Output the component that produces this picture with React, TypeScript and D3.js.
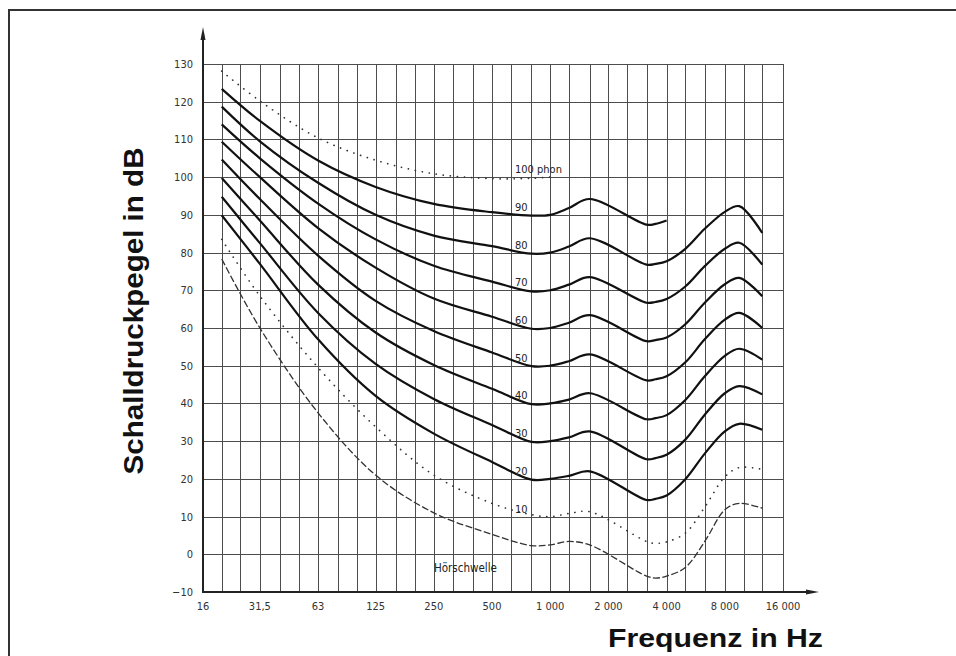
import React from 'react';
import * as d3 from 'd3';

const freqs = [20, 31.5, 63, 125, 250, 500, 800, 1000, 1250, 1600, 3150, 3500, 4000, 5000, 6300, 8000, 9500, 12500];

// sound pressure level (dB) per loudness level, null = curve not drawn there
const phon100 = [128.1, 120.2, 110.4, 104.5, 100.9, 99.6, 99.7, 100, null, null, null, null, null, null, null, null, null, null];
const phon90 = [123.4, 114.9, 104.4, 97.4, 92.9, 90.7, 89.8, 90, 91.8, 94.2, 87.4, 87.6, 88.5, null, null, null, null, null];
const phon80 = [118.7, 109.5, 98.5, 90, 84.5, 81.7, 79.7, 80, 81.6, 83.8, 76.8, 77.0, 77.7, 81.0, 86.3, 90.8, 92.3, 85.2];
const phon70 = [114, 105, 93, 83.5, 76.5, 72.3, 69.7, 70, 71.5, 73.5, 66.7, 66.9, 67.7, 71.0, 76.4, 81.0, 82.6, 76.8];
const phon60 = [109.4, 100, 86.5, 76, 67.8, 63, 59.8, 60, 61.4, 63.4, 56.5, 56.8, 57.5, 61.0, 66.7, 71.6, 73.3, 68.4];
const phon50 = [104.7, 94.2, 79.2, 67.2, 59.2, 53.5, 49.9, 50, 51.2, 53, 46.1, 46.4, 47.2, 50.9, 57.0, 62.2, 64, 60];
const phon40 = [99.8, 88.5, 71.5, 58.8, 50.2, 43.9, 39.8, 40, 41, 42.7, 35.8, 36.1, 36.9, 40.9, 47.2, 52.6, 54.5, 51.6];
const phon30 = [94.8, 82.5, 64, 50.5, 41.2, 34.3, 29.8, 30, 31, 32.6, 25.2, 25.5, 26.4, 30.4, 37.0, 42.7, 44.6, 42.4];
const phon20 = [89.9, 77, 57, 42, 32, 24.5, 19.8, 20, 20.8, 22, 14.4, 14.7, 15.6, 19.9, 26.7, 32.6, 34.6, 33];
const phon10 = [83.5, 68.5, 49.5, 33.8, 21, 13.5, 10.5, 10, 10.8, 11.3, 3.4, 2.9, 3.3, 5.6, 12.5, 20.5, 23.0, 22.5];
const threshold = [78.3, 60, 37.5, 21, 11, 5.3, 2.3, 2.5, 3.4, 2.5, -5.8, -6.3, -5.8, -3.5, 3.4, 11.8, 13.5, 12.2];

const curves = [
  { phon: 100, label: '100 phon', values: phon100, style: 'dot' },
  { phon: 90, label: '90', values: phon90, style: 'solid' },
  { phon: 80, label: '80', values: phon80, style: 'solid' },
  { phon: 70, label: '70', values: phon70, style: 'solid' },
  { phon: 60, label: '60', values: phon60, style: 'solid' },
  { phon: 50, label: '50', values: phon50, style: 'solid' },
  { phon: 40, label: '40', values: phon40, style: 'solid' },
  { phon: 30, label: '30', values: phon30, style: 'solid' },
  { phon: 20, label: '20', values: phon20, style: 'solid' },
  { phon: 10, label: '10', values: phon10, style: 'dot' },
  { phon: null, label: 'Hörschwelle', values: threshold, style: 'dash' },
];

// grid: third-octave band lines
const bandFreqs = [16, 20, 25, 31.5, 40, 50, 63, 80, 100, 125, 160, 200, 250, 315, 400, 500, 630, 800,
  1000, 1250, 1600, 2000, 2500, 3150, 4000, 5000, 6300, 8000, 10000, 12500, 16000];
const xTicks = [16, 31.5, 63, 125, 250, 500, 1000, 2000, 4000, 8000, 16000];
const xTickLabels = ['16', '31,5', '63', '125', '250', '500', '1 000', '2 000', '4 000', '8 000', '16 000'];
const yTicks = [-10, 0, 10, 20, 30, 40, 50, 60, 70, 80, 90, 100, 110, 120, 130];

const totalWidth = 956;
const totalHeight = 656;

class App extends React.Component {
  node = React.createRef<HTMLDivElement>();

  componentDidMount() {
    const root = d3.select(this.node.current);
    root.selectAll('*').remove();

    const svg = root
      .append('svg')
      .attr('width', totalWidth)
      .attr('height', totalHeight)
      .style('display', 'block')
      .style('background', '#fff');

    const x = d3.scaleLog().domain([16, 16000]).range([203, 783]);
    const y = d3.scaleLinear().domain([-10, 130]).range([592, 64]);

    // frame (only top and left edges are inside the picture)
    svg.append('rect')
      .attr('x', 9).attr('y', 10)
      .attr('width', totalWidth + 20).attr('height', totalHeight + 20)
      .attr('fill', 'none').attr('stroke', '#333').attr('stroke-width', 2);

    const grid = svg.append('g').attr('stroke', '#4d4d4d').attr('stroke-width', 1);
    grid.selectAll('line.h').data(yTicks).enter().append('line')
      .attr('x1', x(16)).attr('x2', x(16000))
      .attr('y1', d => Math.round(y(d)) + 0.5).attr('y2', d => Math.round(y(d)) + 0.5);
    grid.selectAll('line.v').data(bandFreqs).enter().append('line')
      .attr('x1', d => Math.round(x(d)) + 0.5).attr('x2', d => Math.round(x(d)) + 0.5)
      .attr('y1', y(130)).attr('y2', y(-10));

    // axes with arrows
    const axes = svg.append('g').attr('stroke', '#222').attr('stroke-width', 2);
    axes.append('line').attr('x1', x(16)).attr('x2', x(16)).attr('y1', y(-10) + 1).attr('y2', 34);
    axes.append('line').attr('x1', x(16) - 1).attr('x2', 812).attr('y1', y(-10)).attr('y2', y(-10));
    svg.append('path').attr('fill', '#222')
      .attr('d', `M${x(16)},27 L${x(16) - 2.5},40 L${x(16) + 2.5},40 Z`);
    svg.append('path').attr('fill', '#222')
      .attr('d', `M819,${y(-10)} L806,${y(-10) - 2.5} L806,${y(-10) + 2.5} Z`);

    // tick labels
    svg.append('g').selectAll('text').data(yTicks).enter().append('text')
      .attr('x', 193).attr('y', d => y(d)).attr('dy', '0.36em')
      .attr('text-anchor', 'end')
      .style('font-family', '"DejaVu Sans Condensed", "DejaVu Sans", sans-serif')
      .style('font-size', '11px').attr('fill', '#333')
      .text(d => (d < 0 ? '\u2212' + Math.abs(d) : String(d)));

    svg.append('g').selectAll('text').data(xTicks).enter().append('text')
      .attr('x', d => x(d)).attr('y', 610)
      .attr('text-anchor', 'middle')
      .style('font-family', '"DejaVu Sans Condensed", "DejaVu Sans", sans-serif')
      .style('font-size', '11px').attr('fill', '#333')
      .text((d, i) => xTickLabels[i]);

    // curves
    const line = d3.line<number | null>()
      .defined(d => d != null)
      .x((d, i) => x(freqs[i]))
      .y(d => y(d as number))
      .curve(d3.curveCatmullRom.alpha(0.5));

    svg.append('g').selectAll('path').data(curves).enter().append('path')
      .attr('d', d => line(d.values))
      .attr('fill', 'none')
      .attr('stroke', d => (d.style === 'solid' ? '#111' : '#333'))
      .attr('stroke-width', d => (d.style === 'solid' ? 2.2 : d.style === 'dot' ? 1.7 : 1.3))
      .attr('stroke-linecap', d => (d.style === 'dot' ? 'round' : 'butt'))
      .attr('stroke-dasharray', d => (d.style === 'dot' ? '0.1 7' : d.style === 'dash' ? '7 2.5' : null));

    // curve labels
    const labelFont = '"DejaVu Sans Condensed", "DejaVu Sans", sans-serif';
    svg.append('g').selectAll('text').data(curves.filter(c => c.phon != null)).enter().append('text')
      .attr('x', 515).attr('y', d => y(d.phon as number) - 4)
      .style('font-family', labelFont).style('font-size', '11px').attr('fill', '#222')
      .text(d => d.label);
    svg.append('text')
      .attr('x', 434).attr('y', 572)
      .style('font-family', labelFont).style('font-size', '11.5px').attr('fill', '#222')
      .text('Hörschwelle');

    // axis titles
    svg.append('text')
      .attr('transform', `translate(143, 311) rotate(-90)`)
      .attr('text-anchor', 'middle')
      .attr('textLength', 327).attr('lengthAdjust', 'spacingAndGlyphs')
      .style('font-family', '"Liberation Sans", Arial, sans-serif')
      .style('font-weight', 'bold').style('font-size', '28px').attr('fill', '#111')
      .text('Schalldruckpegel in dB');

    svg.append('text')
      .attr('x', 608).attr('y', 647)
      .attr('textLength', 215).attr('lengthAdjust', 'spacingAndGlyphs')
      .style('font-family', '"Liberation Sans", Arial, sans-serif')
      .style('font-weight', 'bold').style('font-size', '25px').attr('fill', '#111')
      .text('Frequenz in Hz');
  }

  render() {
    return <div ref={this.node} style={{ position: 'absolute', left: 0, top: 0 }} />;
  }
}

export default App;
